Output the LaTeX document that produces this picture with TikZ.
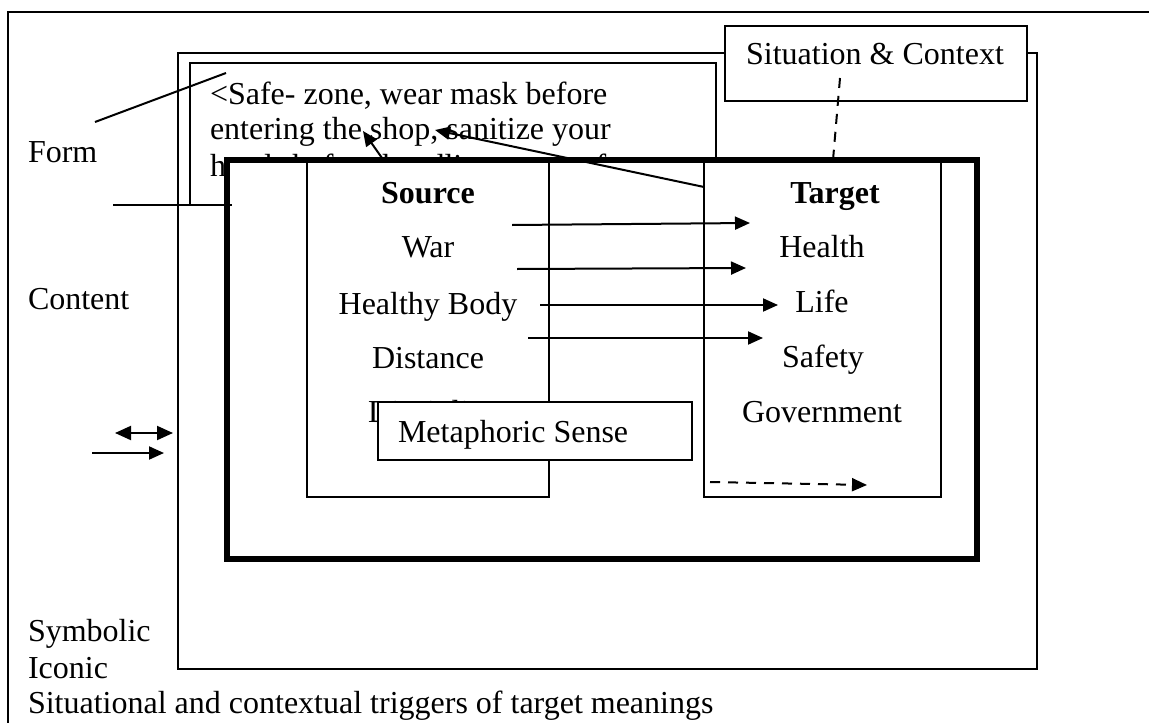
\documentclass[tikz,border=0pt]{standalone}
\usepackage{fontspec}
\setmainfont{Liberation Serif}
\usetikzlibrary{arrows.meta}

\begin{document}
\begin{tikzpicture}[x=0.5pt,y=-0.5pt,
  txt/.style={inner sep=0pt, outer sep=0pt, font=\fontsize{16}{19}\selectfont},
  lbl/.style={txt, anchor=base west},
  ctr/.style={txt, anchor=base},
  panel/.style={draw, line width=0.6pt, inner sep=0pt, outer sep=0pt, anchor=north west, fill=white},
  heavy/.style={panel, line width=2.8pt},
  rule/.style={line width=1pt},
  arr/.style={rule, -{Triangle[length=7.5pt,width=6.5pt]}},
  darr/.style={rule, {Triangle[length=8pt,width=7pt]}-{Triangle[length=8pt,width=7pt]}},
  dashline/.style={rule, dash pattern=on 5pt off 4pt},
]
\useasboundingbox (0,0) rectangle (1149,722);

% outer frame (only top and left edges inside the page)
\draw[line width=0.6pt] (8,730) -- (8,12) -- (1160,12);

% second frame and the situation label that interrupts its top edge
\node[panel, fill=none, minimum width=429.5pt, minimum height=308pt] (frame) at (178,53) {};
\node[panel, minimum width=151pt, minimum height=37.5pt] (sit) at (725,26) {};
\node[ctr] (sittxt) at (875,65) {Situation \& Context};

% sign box with its text
\node[panel, minimum width=263pt, minimum height=71pt] (sign) at (190,63) {};
\node[lbl] (sign1) at (210,104.5) {<Safe- zone, wear mask before};
\node[lbl] (sign2) at (210,140) {entering the shop, sanitize your};
\node[lbl] (sign3) at (210,176) {hands before handling any surface};

% pointer lines on the left
\coordinate (formA) at (95,122);
\coordinate (formB) at (226,73);
\draw[rule] (formA) -- (formB);
\coordinate (contA) at (113,205);
\coordinate (contB) at (232,205);

% heavy mapping box
\node[heavy, minimum width=375pt, minimum height=199.5pt] (map) at (227,160) {};
\draw[rule] (contA) -- (contB);

% source and target columns
\node[panel, minimum width=121pt, minimum height=168.5pt] (source) at (307,160) {};
\node[panel, minimum width=118.5pt, minimum height=168.5pt] (target) at (704,160) {};
\draw[heavy, fill=none] (map.north west) -- (map.north east);

\node[ctr, font=\fontsize{16}{19}\selectfont\bfseries] (srchead) at (428,203) {Source};
\node[ctr] (s1) at (428,257) {War};
\node[ctr] (s2) at (428,314) {Healthy Body};
\node[ctr] (s3) at (428,368) {Distance};
\node[lbl] (s4) at (368,422) {Discipline};

\node[ctr, font=\fontsize{16}{19}\selectfont\bfseries] (tgthead) at (835,203) {Target};
\node[ctr] (t1) at (822,257) {Health};
\node[ctr] (t2) at (822,312) {Life};
\node[ctr] (t3) at (823,367) {Safety};
\node[ctr] (t4) at (822,422) {Government};

% metaphoric sense label
\node[panel, minimum width=157pt, minimum height=29pt] (meta) at (378,402) {};
\node[lbl] (metatxt) at (398,442) {Metaphoric Sense};

% source-to-target mappings
\coordinate (m1a) at (512,225); \coordinate (m1b) at (750,223);
\coordinate (m2a) at (517,269); \coordinate (m2b) at (746,268);
\coordinate (m3a) at (540,305); \coordinate (m3b) at (778,305);
\coordinate (m4a) at (528,338); \coordinate (m4b) at (763,338);
\draw[arr] (m1a) -- (m1b);
\draw[arr] (m2a) -- (m2b);
\draw[arr] (m3a) -- (m3b);
\draw[arr] (m4a) -- (m4b);

% arrows back to the sign text
\coordinate (b1a) at (704,187); \coordinate (b1b) at (435,130);
\coordinate (b2a) at (382,158); \coordinate (b2b) at (363,131);
\draw[arr] (b1a) -- (b1b);
\draw[arr] (b2a) -- (b2b);

% situation link and dashed trigger arrow
\coordinate (sd1) at (840,78); \coordinate (sd2) at (833,160);
\draw[dashline] (sd1) -- (sd2);
\coordinate (td1) at (710,482); \coordinate (td2) at (867,485);
\draw[dashline, -{Triangle[length=7.5pt,width=6.5pt]}] (td1) -- (td2);

% legend arrows
\coordinate (l1a) at (115,433); \coordinate (l1b) at (173,433);
\coordinate (l2a) at (92,453); \coordinate (l2b) at (164,453);
\draw[darr] (l1a) -- (l1b);
\draw[arr] (l2a) -- (l2b);

% left-hand labels
\node[lbl] (form) at (28,162) {Form};
\node[lbl] (content) at (28,309) {Content};
\node[lbl] (symbolic) at (28,641) {Symbolic};
\node[lbl] (iconic) at (28,678) {Iconic};
\node[lbl] (trig) at (28,713) {Situational and contextual triggers of target meanings};
\end{tikzpicture}
\end{document}
